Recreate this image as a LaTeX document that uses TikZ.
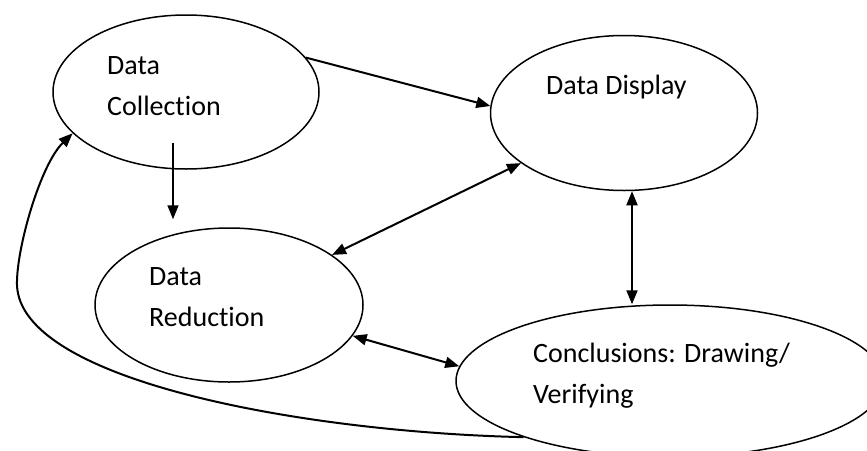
\documentclass[tikz,border=0pt]{standalone}
\usepackage{fontspec}
\setmainfont{Carlito}[Ligatures=NoCommon]
\usetikzlibrary{arrows.meta,shapes.geometric}
\tikzset{
  stage/.style={ellipse,draw,line width=1.5pt,inner sep=0pt},
  lbl/.style={anchor=base west,align=left,inner sep=0pt,font=\fontsize{28}{41}\selectfont},
  ar/.style={-{Triangle[length=14pt,width=11pt]},line width=2pt},
  dar/.style={{Triangle[length=14pt,width=11pt]}-{Triangle[length=14pt,width=11pt]},line width=2pt}
}
\begin{document}
\begin{tikzpicture}[x=1pt,y=-1pt]
\useasboundingbox[fill=white] (0,0) rectangle (867,450);
% stages
\node[stage,minimum width=266pt,minimum height=154pt] (coll) at (186,92) {};
\node[stage,minimum width=267pt,minimum height=155pt] (disp) at (624,113) {};
\node[stage,minimum width=268pt,minimum height=154pt] (red) at (229,305) {};
\node[stage,minimum width=428pt,minimum height=152pt] (conc) at (670,381) {};
\node[lbl] (collt) at (107,115) {Data\\Collection};
\node[lbl] (dispt) at (546,94) {Data Display};
\node[lbl] (redt) at (149,326) {Data\\Reduction};
\node[lbl] (conct) at (533,403) {Conclusions: Drawing/\\Verifying};
% links
\draw[ar] (coll.16) -- (disp.177);
\draw[ar,line width=1.5pt] ([xshift=-13pt,yshift=27pt]coll.south) -- ([xshift=-56pt,yshift=8pt]red.north);
\draw[dar] (red) -- (disp);
\coordinate (dc) at ([xshift=8pt]disp.south);
\draw[dar] (dc) -- (dc |- conc.north);
\draw[dar] (red.-14) -- (conc.176);
\draw[ar] (conc.201) .. controls (300,432) and (20,380) .. (17,285)
  .. controls (16,250) and (40,165) .. (coll.200);
\end{tikzpicture}
\end{document}
